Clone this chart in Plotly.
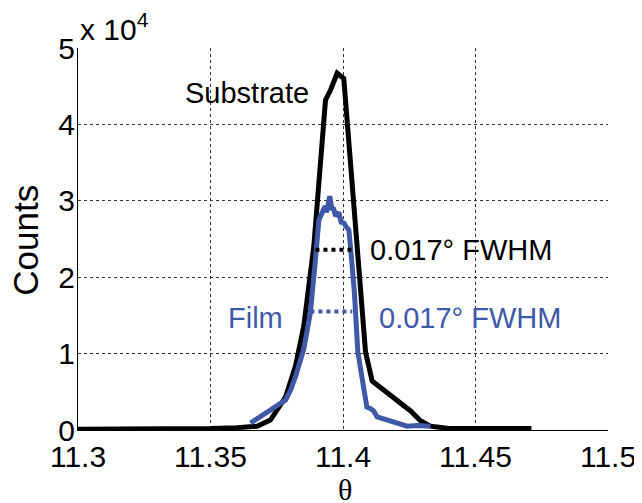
import plotly.graph_objects as go

# Substrate curve (theta, counts in units of 1e4)
sub_theta = [11.300, 11.330, 11.350, 11.360, 11.3676, 11.3726, 11.3783, 11.3821, 11.3852,
             11.3890, 11.3921, 11.3934, 11.3953, 11.3978, 11.4003, 11.4018, 11.4041,
             11.4066, 11.4085, 11.4110, 11.4154, 11.4205, 11.4255, 11.4292, 11.4330,
             11.4400, 11.4711]
sub_counts = [0.01, 0.01, 0.02, 0.03, 0.05, 0.13, 0.43, 0.84, 1.36,
              2.41, 3.80, 4.32, 4.45, 4.67, 4.60, 3.95, 2.89,
              1.80, 1.02, 0.64, 0.52, 0.40, 0.25, 0.12, 0.05,
              0.02, 0.02]

# Film curve
film_theta = [11.3651, 11.3675, 11.3701, 11.3730, 11.3764, 11.3783, 11.3802, 11.3821, 11.3852,
              11.3877, 11.3896, 11.3909, 11.3922, 11.3932, 11.3938, 11.3944, 11.3950,
              11.3958, 11.3965, 11.3972, 11.3984, 11.3993, 11.4003, 11.4012, 11.4022,
              11.4028, 11.4043, 11.4056, 11.4078, 11.4090, 11.4104, 11.4116, 11.4129,
              11.4150, 11.4179, 11.4210, 11.4242, 11.4280, 11.4318, 11.4330]
film_counts = [0.09, 0.14, 0.20, 0.27, 0.35, 0.39, 0.52, 0.70, 1.06,
               1.54, 2.23, 2.75, 2.85, 2.93, 2.85, 2.98, 3.06,
               2.90, 2.89, 2.80, 2.85, 2.72, 2.71, 2.66, 2.62,
               2.41, 1.80, 1.02, 0.49, 0.30, 0.28, 0.25, 0.17,
               0.15, 0.12, 0.08, 0.05, 0.06, 0.04, 0.05]

# FWHM markers
sub_fwhm_theta = [11.3896, 11.4035]
sub_fwhm_counts = [2.36, 2.36]
film_fwhm_theta = [11.3877, 11.4035]
film_fwhm_counts = [1.55, 1.55]

x_ticks = [11.3, 11.35, 11.4, 11.45, 11.5]
x_ticktext = ["11.3", "11.35", "11.4", "11.45", "11.5"]
y_ticks = [0, 1, 2, 3, 4, 5]
y_ticktext = ["0", "1", "2", "3", "4", "5"]

SCALE = 1e4
BLUE = "#3f58a8"
FONT = "Liberation Sans"

fig = go.Figure()
fig.add_trace(go.Scatter(x=sub_theta, y=[v * SCALE for v in sub_counts], mode="lines",
                         line=dict(color="black", width=5), showlegend=False))
fig.add_trace(go.Scatter(x=film_theta, y=[v * SCALE for v in film_counts], mode="lines",
                         line=dict(color=BLUE, width=5), showlegend=False))
fig.add_trace(go.Scatter(x=sub_fwhm_theta, y=[v * SCALE for v in sub_fwhm_counts], mode="lines",
                         line=dict(color="black", width=4, dash="dot"), showlegend=False))
fig.add_trace(go.Scatter(x=film_fwhm_theta, y=[v * SCALE for v in film_fwhm_counts], mode="lines",
                         line=dict(color=BLUE, width=4, dash="dot"), showlegend=False))

annots = [
    dict(x=11.3636, y=4.41 * SCALE, text="Substrate", xanchor="center", yanchor="middle",
         font=dict(family=FONT, size=29, color="black")),
    dict(x=11.4096, y=2.36 * SCALE, text="0.017° FWHM", xanchor="left", yanchor="middle",
         font=dict(family=FONT, size=29, color="black")),
    dict(x=11.4130, y=1.47 * SCALE, text="0.017° FWHM", xanchor="left", yanchor="middle",
         font=dict(family=FONT, size=29, color=BLUE)),
    dict(x=11.3557, y=1.47 * SCALE, text="Film", xanchor="left", yanchor="middle",
         font=dict(family=FONT, size=29, color=BLUE)),
    dict(xref="paper", yref="paper", x=0.0, y=1.0, text="x 10<sup>4</sup>",
         xanchor="left", yanchor="bottom", font=dict(family=FONT, size=30, color="black")),
    dict(xref="paper", yref="paper", x=-0.099, y=0.497, text="Counts", textangle=-90,
         xanchor="center", yanchor="middle", font=dict(family=FONT, size=35, color="black")),
    dict(xref="paper", yref="paper", x=0.503, y=-0.157, text="θ",
         xanchor="center", yanchor="middle", font=dict(family="Liberation Serif", size=30, color="black")),
]
for a in annots:
    a.setdefault("showarrow", False)
    fig.add_annotation(**a)

fig.update_xaxes(range=[11.3, 11.5], tickvals=x_ticks, ticktext=x_ticktext,
                 showgrid=True, gridcolor="#333", gridwidth=1, griddash="3px,3px",
                 showline=True, linecolor="black", linewidth=1, mirror=False, automargin=False,
                 zeroline=False, ticks="", tickfont=dict(family=FONT, size=30, color="black"))
fig.update_yaxes(range=[0, 5 * SCALE], tickvals=[v * SCALE for v in y_ticks], ticktext=y_ticktext,
                 showgrid=True, gridcolor="#333", gridwidth=1, griddash="3px,3px",
                 showline=True, linecolor="black", linewidth=1, mirror=False, automargin=False,
                 ticklabelstandoff=-4,
                 zeroline=False, ticks="", tickfont=dict(family=FONT, size=30, color="black"))

# The page body has an 8px default margin, so the figure is offset by 8px.
fig.update_layout(width=634, height=495, margin=dict(l=70, r=34, t=40, b=73),
                  plot_bgcolor="white", paper_bgcolor="white")
fig.write_html("out.html")
